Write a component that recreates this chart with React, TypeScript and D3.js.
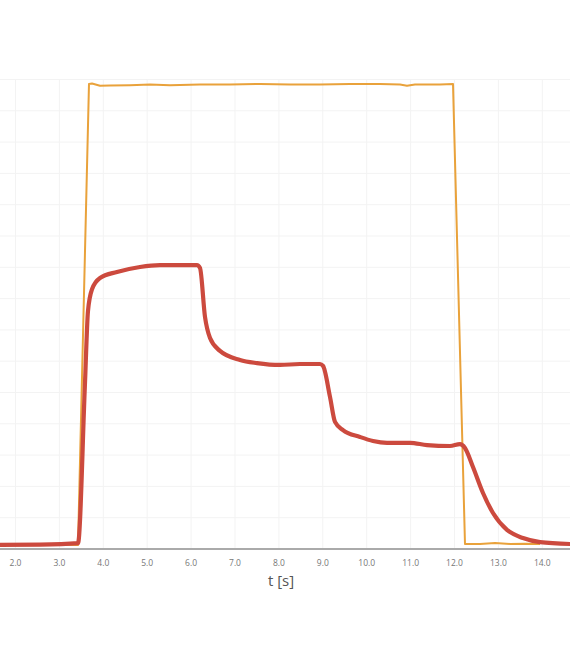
import React from "react";
import * as d3 from "d3";

const W = 570;
const H = 658;

// x ticks (seconds)
const xTicks = [2, 3, 4, 5, 6, 7, 8, 9, 10, 11, 12, 13, 14];
// horizontal grid values
const yGrid = [1, 2, 3, 4, 5, 6, 7, 8, 9, 10, 11, 12, 13, 14, 15];

// response (red) series
const redT = [1.647, 2.558, 3.424, 3.58, 3.651, 3.743, 3.925, 4.312, 4.836, 5.292, 6.134, 6.203, 6.317, 6.431, 6.658, 7.114, 7.501, 8.025, 8.481, 8.936, 9.005, 9.164, 9.278, 9.46, 9.847, 10.144, 10.463, 10.986, 11.374, 11.897, 12.125, 12.239, 12.421, 12.649, 12.877, 13.196, 13.56, 13.948, 14.631];
const redV = [0.13, 0.14, 0.19, 5.2, 7.6, 8.3, 8.66, 8.85, 9.01, 9.07, 9.07, 8.98, 7.41, 6.74, 6.33, 6.04, 5.94, 5.88, 5.91, 5.91, 5.85, 4.86, 4.06, 3.8, 3.58, 3.45, 3.39, 3.39, 3.32, 3.29, 3.35, 3.23, 2.62, 1.79, 1.15, 0.61, 0.35, 0.22, 0.16];

// input (orange) series
const orangeT = [1.647, 3.424, 3.674, 3.743, 3.925, 4.153, 4.608, 5.064, 5.519, 6.203, 6.886, 7.569, 8.253, 8.936, 9.62, 10.303, 10.759, 10.918, 11.1, 11.67, 11.966, 12.239, 12.581, 12.923, 13.264, 13.606, 13.948];
const orangeV = [0.16, 0.13, 14.86, 14.87, 14.8, 14.81, 14.82, 14.84, 14.82, 14.84, 14.84, 14.86, 14.84, 14.84, 14.86, 14.86, 14.84, 14.8, 14.84, 14.84, 14.86, 0.16, 0.16, 0.19, 0.16, 0.17, 0.16];

const xAxisLabel = "t [s]";

export default function App() {
  const x = d3.scaleLinear().domain([2, 3]).range([15.5, 59.4]);
  const y = d3.scaleLinear().domain([0, 1]).range([549, 517.7]);

  const redData = redT.map((t, i) => [t, redV[i]] as [number, number]);
  const orangeData = orangeT.map((t, i) => [t, orangeV[i]] as [number, number]);

  const redLine = d3
    .line<[number, number]>()
    .x((d) => x(d[0]))
    .y((d) => y(d[1]))
    .curve(d3.curveMonotoneX);
  const orangeLine = d3
    .line<[number, number]>()
    .x((d) => x(d[0]))
    .y((d) => y(d[1]));

  const top = y(15);
  const bottom = y(0);

  return (
    <svg
      width={W}
      height={H}
      style={{ position: "absolute", left: 0, top: 0, background: "#fff" }}
    >
      <defs>
        <clipPath id="plot">
          <rect x={0} y={0} width={W} height={bottom + 1} />
        </clipPath>
      </defs>
      <g>
        {yGrid.map((v) => (
          <line key={"h" + v} x1={0} x2={W} y1={y(v)} y2={y(v)} stroke="#f3f3f3" strokeWidth={1} />
        ))}
        {xTicks.map((t) => (
          <line key={"v" + t} x1={x(t)} x2={x(t)} y1={top} y2={bottom} stroke="#f3f3f3" strokeWidth={1} />
        ))}
      </g>
      <g clipPath="url(#plot)">
        <path d={orangeLine(orangeData) || ""} fill="none" stroke="#e9a23b" strokeWidth={2} strokeLinejoin="round" />
        <path d={redLine(redData) || ""} fill="none" stroke="#cc4a3e" strokeWidth={4.2} strokeLinejoin="round" strokeLinecap="round" />
      </g>
      <line x1={0} x2={W} y1={bottom} y2={bottom} stroke="#aaaaaa" strokeWidth={2} />
      {xTicks.map((t) => (
        <text
          key={"t" + t}
          x={x(t)}
          y={566}
          textAnchor="middle"
          fontFamily="'Open Sans', 'DejaVu Sans', sans-serif"
          fontSize={8.5}
          fill="#777"
        >
          {t.toFixed(1)}
        </text>
      ))}
      <text
        x={281}
        y={586}
        textAnchor="middle"
        fontFamily="'Open Sans', 'DejaVu Sans', sans-serif"
        fontSize={15}
        fill="#555"
      >
        {xAxisLabel}
      </text>
    </svg>
  );
}
